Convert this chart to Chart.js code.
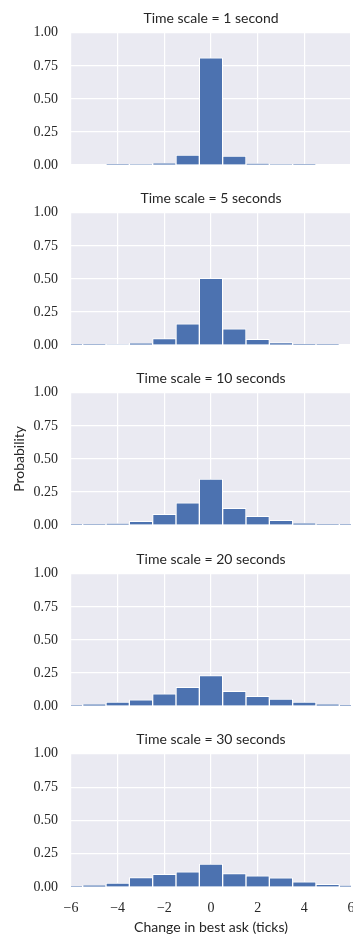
<!DOCTYPE html>
<html>
<head>
<meta charset="utf-8">
<script src="https://cdn.jsdelivr.net/npm/chart.js@4"></script>
<style>
  body { margin: 0; background: #fff; width: 353px; height: 936px; position: relative; overflow: hidden; }
  .panel { position: absolute; left: 0; width: 353px; }
</style>
</head>
<body>
<div class="panel" style="top:0px"><canvas id="p0" width="353" height="180"></canvas></div>
<div class="panel" style="top:180px"><canvas id="p1" width="353" height="180"></canvas></div>
<div class="panel" style="top:360px"><canvas id="p2" width="353" height="180"></canvas></div>
<div class="panel" style="top:541px"><canvas id="p3" width="353" height="180"></canvas></div>
<div class="panel" style="top:721px"><canvas id="p4" width="353" height="215"></canvas></div>
<script>
// change in best ask, one bin per tick
var ticks_change = [-6, -5, -4, -3, -2, -1, 0, 1, 2, 3, 4, 5, 6];

var titulos = ['Time scale = 1 second', 'Time scale = 5 seconds', 'Time scale = 10 seconds',
               'Time scale = 20 seconds', 'Time scale = 30 seconds'];

var prob_1s  = [0, 0, 0.001, 0.003, 0.013, 0.075, 0.81, 0.068, 0.01, 0.003, 0.001, 0, 0];
var prob_5s  = [0.001, 0.001, 0.004, 0.013, 0.048, 0.16, 0.505, 0.122, 0.042, 0.018, 0.005, 0.001, 0];
var prob_10s = [0.001, 0.002, 0.01, 0.028, 0.08, 0.167, 0.348, 0.126, 0.066, 0.036, 0.013, 0.002, 0.001];
var prob_20s = [0.002, 0.013, 0.03, 0.046, 0.093, 0.141, 0.23, 0.111, 0.073, 0.053, 0.03, 0.013, 0.005];
var prob_30s = [0.002, 0.013, 0.03, 0.07, 0.096, 0.114, 0.172, 0.1, 0.083, 0.068, 0.038, 0.02, 0.01];

var y_ticks = [0, 0.25, 0.5, 0.75, 1];

var series = [prob_1s, prob_5s, prob_10s, prob_20s, prob_30s];

const TEXTO = '#262626';
const FONDO = '#EAEAF2';
const AZUL = '#4C72B0';

// grey axes background behind the grid
const fondoPlugin = {
    id: 'fondo',
    beforeDraw: function(chart) {
        var a = chart.chartArea;
        var c = chart.ctx;
        c.save();
        c.fillStyle = FONDO;
        c.fillRect(a.left, a.top, a.right - a.left, a.bottom - a.top);
        c.restore();
    }
};

function menos(v) {
    return v < 0 ? '\u2212' + Math.abs(v) : String(v);
}

for (var i = 0; i < series.length; i++) {
    var ultimo = (i == series.length - 1);
    var datos = [];
    for (var j = 0; j < ticks_change.length; j++) {
        datos.push({x: ticks_change[j], y: series[i][j]});
    }

    new Chart(document.getElementById('p' + i), {
        type: 'bar',
        data: {
            datasets: [{
                data: datos,
                backgroundColor: AZUL,
                borderColor: '#ffffff',
                borderWidth: 1,
                barPercentage: 1,
                categoryPercentage: 1
            }]
        },
        plugins: [fondoPlugin],
        options: {
            responsive: false,
            animation: false,
            devicePixelRatio: 1,
            layout: { padding: { left: 0, right: 2, top: 0, bottom: 0 } },
            plugins: {
                legend: { display: false },
                tooltip: { enabled: false },
                title: {
                    display: true,
                    text: titulos[i],
                    fullSize: false,
                    color: TEXTO,
                    font: { family: 'Lato', size: 14, weight: 'normal' },
                    padding: { top: 10, bottom: 6 }
                }
            },
            scales: {
                x: {
                    type: 'linear',
                    min: -6,
                    max: 6,
                    offset: false,
                    grid: { color: '#ffffff', lineWidth: 1.2, drawTicks: false, offset: false },
                    border: { display: false },
                    ticks: {
                        display: ultimo,
                        stepSize: 2,
                        padding: 13,
                        color: TEXTO,
                        font: { family: 'Liberation Serif', size: 14 },
                        maxRotation: 0,
                        callback: menos
                    },
                    title: {
                        display: ultimo,
                        text: 'Change in best ask (ticks)',
                        color: TEXTO,
                        font: { family: 'Lato', size: 14 },
                        padding: { top: 0, bottom: 0 }
                    },
                    afterFit: (function(u) {
                        return function(s) {
                            s.height = u ? 49 : 15;
                            s.paddingLeft = 0;
                            s.paddingRight = 0;
                        };
                    })(ultimo)
                },
                y: {
                    min: 0,
                    max: 1,
                    afterBuildTicks: function(s) {
                        s.ticks = y_ticks.map(function(v) { return {value: v}; });
                    },
                    grid: { color: '#ffffff', lineWidth: 1.2, drawTicks: false },
                    border: { display: false },
                    ticks: {
                        padding: 13,
                        color: TEXTO,
                        font: { family: 'Liberation Serif', size: 14 },
                        callback: function(v) { return v.toFixed(2); }
                    },
                    title: {
                        display: i == 2,
                        text: 'Probability',
                        color: TEXTO,
                        font: { family: 'Lato', size: 14 },
                        padding: { top: 11, bottom: 0 }
                    },
                    afterFit: function(s) {
                        s.width = 71;
                        s.paddingTop = 0;
                        s.paddingBottom = 0;
                    }
                }
            }
        }
    });
}
</script>
</body>
</html>
